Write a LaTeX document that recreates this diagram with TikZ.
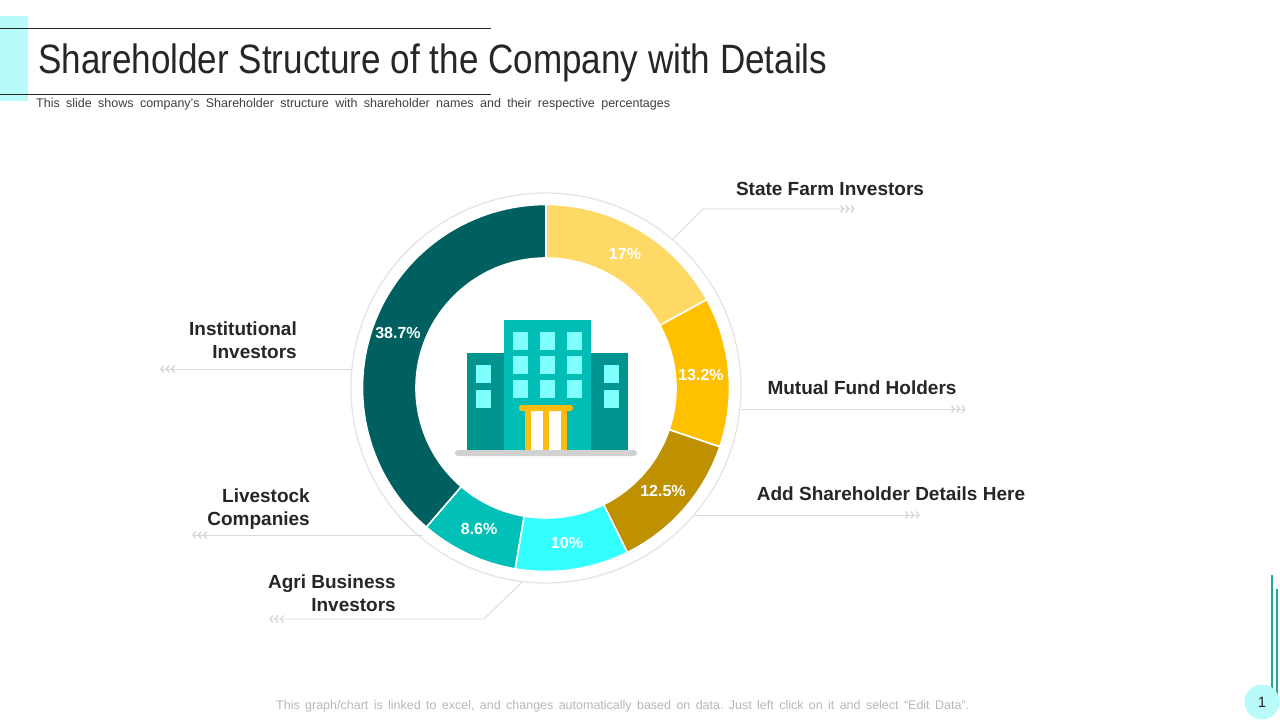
\documentclass[tikz,border=0pt]{standalone}
\usepackage{fontspec}
\setmainfont{Liberation Sans}
\usetikzlibrary{arrows.meta}
\frenchspacing
\definecolor{inktext}{HTML}{262626}
\definecolor{leader}{HTML}{D9D9D9}
\definecolor{chev}{HTML}{D4D4D4}
\definecolor{cyanpale}{HTML}{B9FBFB}
\definecolor{windowc}{HTML}{80FFFF}
\definecolor{bldside}{HTML}{00948F}
\definecolor{bldmain}{HTML}{00BDB6}
\definecolor{doorc}{HTML}{FBBC0E}
\definecolor{segA}{HTML}{FFD966}
\definecolor{segB}{HTML}{FFC000}
\definecolor{segC}{HTML}{BF9000}
\definecolor{segD}{HTML}{33FFFF}
\definecolor{segE}{HTML}{00C0B8}
\definecolor{segF}{HTML}{006060}
\definecolor{railc}{HTML}{1AA99A}
\tikzset{
  lab/.style={font=\fontsize{19}{23}\selectfont\bfseries,text=inktext,inner sep=0pt,align=right},
  pct/.style={font=\fontsize{16}{18}\selectfont\bfseries,text=white,inner sep=0pt},
  conn/.style={draw=leader,line width=0.9pt},
  tipR/.style={-{Straight Barb[length=2.6pt,width=7pt,line width=1.3pt,color=chev,sep=1.3pt] Straight Barb[length=2.6pt,width=7pt,line width=1.3pt,color=chev,sep=1.3pt] Straight Barb[length=2.6pt,width=7pt,line width=1.3pt,color=chev,sep=1.3pt]}},
  win/.style={fill=windowc,draw=none},
  seg/.style={draw=white,line width=1.6pt}
}
\newcommand{\wedgeseg}[3]{\path[seg,fill=#3] (#1:183.5pt) arc[start angle=#1,end angle=#2,radius=183.5pt] -- (#2:130pt) arc[start angle=#2,end angle=#1,radius=130pt] -- cycle;}
\begin{document}
\begin{tikzpicture}[x=1pt,y=-1pt]
\useasboundingbox (0,0) rectangle (1280,720);
\fill[white] (0,0) rectangle (1280,720);
% header
\fill[cyanpale] (0,16) rectangle (28,101);
\draw[line width=0.8pt,black!85] (0,28) -- (491,28);
\draw[line width=0.8pt,black!85] (0,94) -- (491,94);
\node[anchor=west,inner sep=0pt,text=inktext] (title) at (38,62.5) {\scalebox{0.855}[1]{\fontsize{41}{46}\selectfont Shareholder Structure of the Company with Details}};
\node[anchor=west,inner sep=0pt,text=black!75] (sub) at (36,104.5) {\fontsize{12.5}{14}\selectfont\makebox[634pt][s]{This slide shows company’s Shareholder structure with shareholder names and their respective percentages}};
% donut
\node[circle,draw=black!10,line width=1.3pt,minimum size=390pt,inner sep=0pt] (ring) at (546,388) {};
\begin{scope}[shift={(546,388)},y=1pt]
\wedgeseg{90}{28.8}{segA}
\wedgeseg{28.8}{-18.7}{segB}
\wedgeseg{-18.7}{-63.7}{segC}
\wedgeseg{-63.7}{-99.7}{segD}
\wedgeseg{-99.7}{-130.7}{segE}
\wedgeseg{-130.7}{-270}{segF}
\end{scope}
\node[pct] (p17) at (625,254) {17\%};
\node[pct] (p132) at (701,374.5) {13.2\%};
\node[pct] (p125) at (663,491) {12.5\%};
\node[pct] (p10) at (567,543) {10\%};
\node[pct] (p86) at (479,529) {8.6\%};
\node[pct] (p387) at (398,333) {38.7\%};
% building
\fill[bldside] (467,353) rectangle (628,450);
\fill[bldmain] (504,320) rectangle (591,450);
\foreach \x in {513,540,567}\foreach \y in {332,356,380}\fill[win] (\x,\y) rectangle ++(15,18);
\foreach \x in {476,604}\foreach \y in {365,390}\fill[win] (\x,\y) rectangle ++(15,18);
\fill[doorc] (525,409) rectangle (567,450);
\fill[white] (531,411) rectangle (543,450);
\fill[white] (549,411) rectangle (561,450);
\fill[doorc,rounded corners=2.5pt] (519,405) rectangle (573,411);
\fill[black!18,rounded corners=3pt] (455,450) rectangle (637,456);
% labels
\node[lab,anchor=center] (state) at (830,189) {State Farm Investors};
\node[lab,anchor=center] (mutual) at (862,388) {Mutual Fund Holders};
\node[lab,anchor=center] (add) at (891,494) {Add Shareholder Details Here};
\node[lab,anchor=east] (inst) at (297,340) {Institutional\\Investors};
\node[lab,anchor=east] (live) at (310,509) {Livestock\\Companies};
\node[lab,anchor=east] (agri) at (396,593) {Agri Business\\Investors};
% connectors
\coordinate (a1) at (673,239); \coordinate (a2) at (703,209); \coordinate (a3) at (856,209);
\coordinate (b1) at (742,409); \coordinate (b3) at (967,409);
\coordinate (c1) at (695,515); \coordinate (c3) at (921,515);
\coordinate (d1) at (352,369); \coordinate (d3) at (159,369);
\coordinate (e1) at (422,535); \coordinate (e3) at (191,535);
\coordinate (f1) at (522,582); \coordinate (f2) at (484,619); \coordinate (f3) at (268,619);
\draw[conn,tipR] (a1) -- (a2) -- (a3);
\draw[conn,tipR] (b1) -- (b3);
\draw[conn,tipR] (c1) -- (c3);
\draw[conn,tipR] (d1) -- (d3);
\draw[conn,tipR] (e1) -- (e3);
\draw[conn,tipR] (f1) -- (f2) -- (f3);
% footer
\node[anchor=west,inner sep=0pt,text=black!28] (foot) at (276,706.5) {\fontsize{12.5}{14}\selectfont\makebox[693pt][s]{This graph/chart is linked to excel, and changes automatically based on data. Just left click on it and select “Edit Data”.}};
\draw[line width=1.2pt,color=railc] (1272,575) -- (1272,693);
\draw[line width=1.2pt,color=railc] (1277,589) -- (1277,707);
\begin{scope}
\clip (0,0) rectangle (1280,720);
\node[circle,fill=cyanpale,minimum size=35pt,inner sep=0pt,text=inktext,font=\fontsize{15}{17}\selectfont] (page) at (1262,702) {1};
\end{scope}
\end{tikzpicture}
\end{document}
